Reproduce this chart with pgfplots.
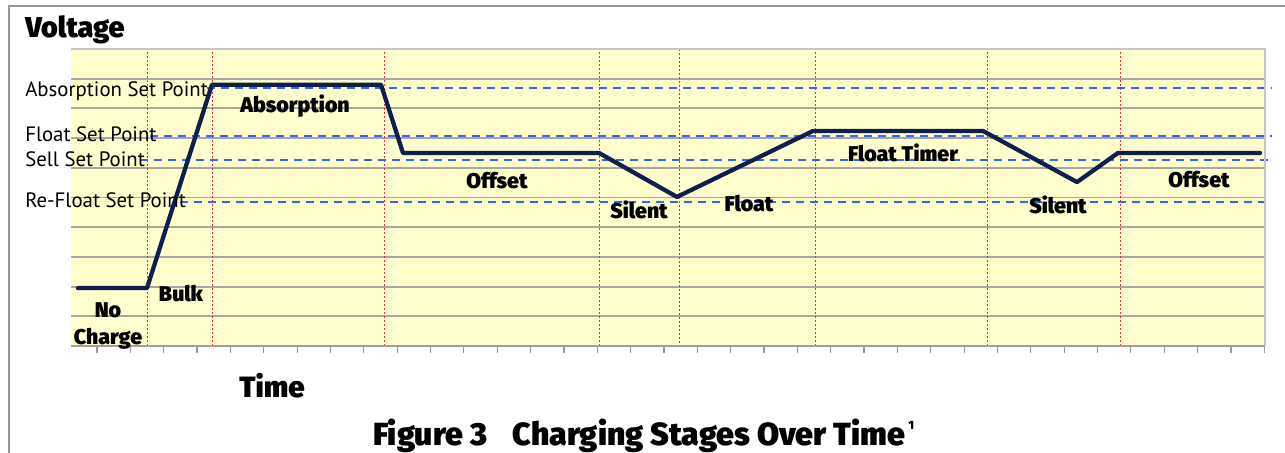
\documentclass[border=0pt]{standalone}
\usepackage{pgfplots}
\pgfplotsset{compat=1.18}
\usepackage{fontspec}
\setmainfont{PT Sans}
\IfFontExistsTF{Fira Sans Black}{\newfontfamily\heavy{Fira Sans Black}}{%
  \IfFontExistsTF{Lato Black}{\newfontfamily\heavy{Lato Black}}{\newfontfamily\heavy{PT Sans Bold}}}
\definecolor{bgy}{RGB}{255,254,204}
\definecolor{navy}{RGB}{14,30,78}
\definecolor{spblue}{RGB}{51,102,255}
\definecolor{stred}{RGB}{240,40,80}
\definecolor{gridg}{RGB}{168,168,158}
\definecolor{frameg}{RGB}{150,150,150}
\begin{document}
\begin{tikzpicture}
\path[use as bounding box] (0pt,0pt) rectangle (963.75pt,-339.75pt);
\begin{axis}[
  at={(53.25pt,-259.5pt)}, anchor=south west,
  scale only axis, width=895.5pt, height=222.75pt,
  xmin=71, xmax=1265, ymin=0, ymax=10,
  clip=false,
  axis background/.style={fill=bgy},
  axis line style={draw=none},
  ytick={1,...,9}, yticklabels={}, ytick style={draw=none}, ymajorgrids,
  y grid style={gridg, line width=1.4pt},
  xtick={97,130.35,...,1266}, xticklabels={}, xtick pos=bottom,
  tick align=outside, major tick length=5pt,
  x tick style={gray!80, line width=0.9pt},
]
% stage boundaries
\addplot[stred, line width=0.7pt, dash pattern=on 1.5pt off 1.5pt] coordinates {(147,0) (147,10)};
\addplot[stred, line width=0.7pt, dash pattern=on 1.5pt off 1.5pt] coordinates {(212,0) (212,10)};
\addplot[stred, line width=0.7pt, dash pattern=on 1.5pt off 1.5pt] coordinates {(384,0) (384,10)};
\addplot[stred, line width=0.7pt, dash pattern=on 1.5pt off 1.5pt] coordinates {(599,0) (599,10)};
\addplot[stred, line width=0.7pt, dash pattern=on 1.5pt off 1.5pt] coordinates {(679,0.1) (679,10)};
\addplot[stred, line width=0.7pt, dash pattern=on 1.5pt off 1.5pt] coordinates {(815,0) (815,10)};
\addplot[stred, line width=0.7pt, dash pattern=on 1.5pt off 1.5pt] coordinates {(987,0) (987,10)};
\addplot[stred, line width=0.7pt, dash pattern=on 1.5pt off 1.5pt] coordinates {(1120,0) (1120,10)};
% set points
\addplot[spblue, line width=1.5pt, dash pattern=on 6pt off 4.5pt] coordinates {(207,8.68) (1272,8.68)};
\addplot[spblue, line width=1.5pt, dash pattern=on 6pt off 4.5pt] coordinates {(150,7.06) (1272,7.06)};
\addplot[spblue, line width=1.5pt, dash pattern=on 6pt off 4.5pt] coordinates {(140,6.26) (1268,6.26)};
\addplot[spblue, line width=1.5pt, dash pattern=on 6pt off 4.5pt] coordinates {(180,4.86) (1268,4.86)};
% voltage curve
\addplot[navy, line width=3.2pt, line join=round, line cap=round] coordinates {
(78,1.95) (147,1.95) (212,8.80) (381,8.80) (403,6.50) (599,6.50)
(677,5.02) (813,7.24) (983,7.24) (1077,5.52) (1118,6.50) (1260,6.50)};
\draw[gray!45, line width=1.5pt] (rel axis cs:0,1) -- (rel axis cs:1,1) -- (rel axis cs:1,0);
\draw[gray!75, line width=1.5pt] (rel axis cs:0,0) -- (rel axis cs:1,0);
\end{axis}
\begin{scope}[x=0.75pt,y=-0.75pt]
\draw[frameg, line width=1.5pt] (9,470) -- (9,6) -- (1300,6);
\node[anchor=base west, inner sep=0, font=\fontsize{21.5pt}{24pt}\selectfont\heavy] at (25,38) {Voltage};
\begin{scope}[every node/.style={anchor=base west, inner sep=0, font=\fontsize{15.6pt}{18pt}\selectfont}]
\node at (25,97) {Absorption Set Point};
\node at (25,142) {Float Set Point};
\node at (25,166.5) {Sell Set Point};
\node at (25,207) {Re-Float Set Point};
\end{scope}
\begin{scope}[every node/.style={anchor=base, inner sep=0, font=\fontsize{16pt}{18pt}\selectfont\heavy}]
\node at (295,113) {Absorption};
\node at (497,188) {Offset};
\node at (639,218) {Silent};
\node at (749,211) {Float};
\node at (903,161) {Float Timer};
\node at (1058,213) {Silent};
\node at (1199,187) {Offset};
\node at (181,301) {Bulk};
\node at (108,317) {No};
\node at (108,344) {Charge};
\end{scope}
\node[anchor=base, inner sep=0, font=\fontsize{22pt}{24pt}\selectfont\heavy] at (272,397) {Time};
\node[anchor=base west, inner sep=0, font=\fontsize{24pt}{26pt}\selectfont\heavy] at (373,445) {Figure 3\hspace{0.8em}Charging Stages Over Time\hspace{0.1em}\raisebox{0.5em}{\fontsize{9pt}{9pt}\selectfont 1}};
\end{scope}
\end{tikzpicture}
\end{document}
